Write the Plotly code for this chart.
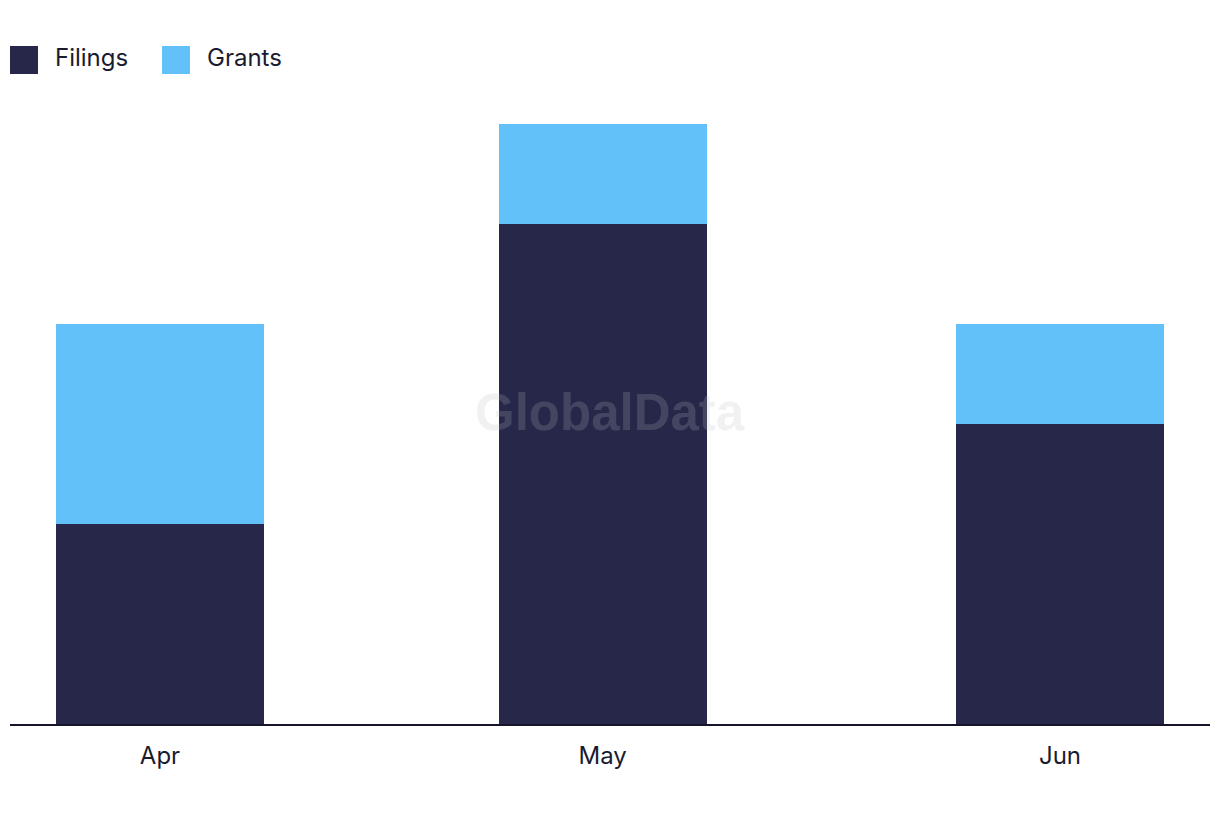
import plotly.graph_objects as go

months = ["2024-04-01", "2024-05-01", "2024-06-01"]
tick_labels = ["Apr", "May", "Jun"]
filings = [2, 5, 3]
grants = [2, 1, 1]

NAVY = "#272849"
BLUE = "#62C1F9"
FONT = "Inter, Lato, sans-serif"
bar_w = 14.1 * 86400000

fig = go.Figure()
fig.add_trace(go.Bar(x=months, y=filings, name="Filings", marker=dict(color=NAVY, line=dict(width=0)),
                     width=bar_w, showlegend=False))
fig.add_trace(go.Bar(x=months, y=grants, name="Grants", marker=dict(color=BLUE, line=dict(width=0)),
                     width=bar_w, showlegend=False))

# custom legend
legend_items = [("Filings", NAVY, 10), ("Grants", BLUE, 162)]
for name, col, x0 in legend_items:
    fig.add_shape(type="rect", xref="paper", yref="paper",
                  x0=(x0 - 10) / 1200, x1=(x0 + 28 - 10) / 1200,
                  y0=(724 - 74) / 624, y1=(724 - 46) / 624,
                  fillcolor=col, line=dict(width=0))
    fig.add_annotation(text=name, xref="paper", yref="paper",
                       x=(x0 + 43 - 10) / 1200, y=(724 - 57) / 624,
                       xanchor="left", yanchor="middle", showarrow=False,
                       font=dict(family=FONT, size=24, color="#1b1b2f"))

# watermark
fig.add_annotation(text="<b>GlobalData</b>", xref="paper", yref="paper",
                   x=(610 - 10) / 1200, y=(724 - 412) / 624, showarrow=False,
                   xanchor="center", yanchor="middle",
                   font=dict(family="Liberation Sans, Arial, sans-serif", size=51,
                             color="rgba(185,185,195,0.2)"))

fig.update_layout(
    width=1220, height=822,
    margin=dict(l=10, r=10, t=100, b=98),
    barmode="stack",
    paper_bgcolor="white", plot_bgcolor="white",
    font=dict(family=FONT, size=24, color="#1b1b2f"),
    xaxis=dict(type="date", range=["2024-03-21 20:00", "2024-06-11 04:00"],
               tickvals=months, ticktext=tick_labels, showgrid=False,
               showline=True, linecolor="#15152a", linewidth=2,
               ticks="", ticklabelstandoff=9, zeroline=False,
               tickfont=dict(family=FONT, size=24, color="#1b1b2f")),
    yaxis=dict(range=[0, 6.24], showgrid=False, showticklabels=False,
               zeroline=False, showline=False),
)

fig.write_html("out.html")
